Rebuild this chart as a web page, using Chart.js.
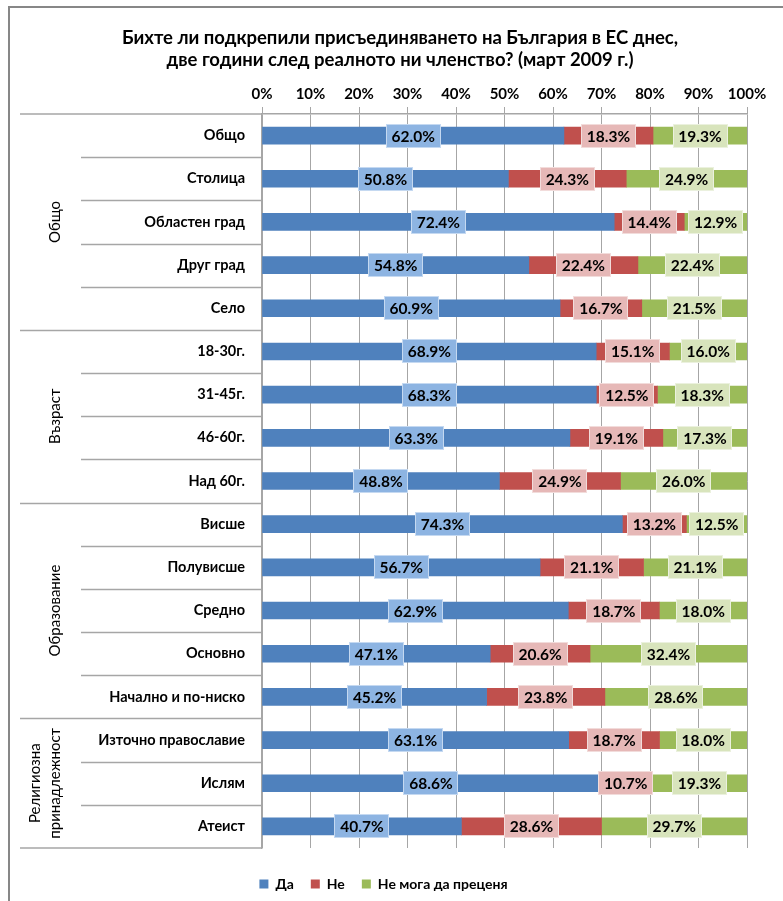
<!DOCTYPE html>
<html>
<head>
<meta charset="utf-8">
<script src="https://cdn.jsdelivr.net/npm/chart.js@4.4.0/dist/chart.umd.min.js"></script>
<style>
  html, body { margin: 0; padding: 0; background: #fff; }
  #wrap { width: 783px; height: 901px; }
</style>
</head>
<body>
<div id="wrap"><canvas id="grafika" width="783" height="901"></canvas></div>
<script>
// заглавие
const zaglavie = [
  'Бихте ли подкрепили присъединяването на България в ЕС днес,',
  'две години след реалното ни членство? (март 2009 г.)'
];

const kategorii = ['Общо', 'Столица', 'Областен град', 'Друг град', 'Село',
  '18-30г.', '31-45г.', '46-60г.', 'Над 60г.',
  'Висше', 'Полувисше', 'Средно', 'Основно', 'Начално и по-ниско',
  'Източно православие', 'Ислям', 'Атеист'];

const da     = [62.0, 50.8, 72.4, 54.8, 60.9, 68.9, 68.3, 63.3, 48.8, 74.3, 56.7, 62.9, 47.1, 45.2, 63.1, 68.6, 40.7];
const ne     = [18.3, 24.3, 14.4, 22.4, 16.7, 15.1, 12.5, 19.1, 24.9, 13.2, 21.1, 18.7, 20.6, 23.8, 18.7, 10.7, 28.6];
const neZnam = [19.3, 24.9, 12.9, 22.4, 21.5, 16.0, 18.3, 17.3, 26.0, 12.5, 21.1, 18.0, 32.4, 28.6, 18.0, 19.3, 29.7];

const seriiImena = ['Да', 'Не', 'Не мога да преценя'];
const xTikove = [0, 10, 20, 30, 40, 50, 60, 70, 80, 90, 100];

// групи: име (редове), първа и последна категория
const grupi = [
  [['Общо'], 0, 4],
  [['Възраст'], 5, 8],
  [['Образование'], 9, 13],
  [['Религиозна', 'принадлежност'], 14, 16]
];

const cvetove = ['#4f81bd', '#c0504d', '#9bbb59'];
const kutiiFon = ['#8db4e2', '#e6b8b7', '#d8e4bc'];
const kutiiRamka = ['#c5d9f1', '#f2dcdb', '#ebf1de'];
const shrift = 'Lato, "Open Sans", sans-serif';

const serii = [da, ne, neZnam];
// 100% натрупване, както в Excel
const sbor = kategorii.map((k, i) => da[i] + ne[i] + neZnam[i]);

const ramka = {
  id: 'ramka',
  beforeDraw(chart) {
    const c = chart.ctx;
    c.save();
    c.fillStyle = '#fff';
    c.fillRect(0, 0, chart.width, chart.height);
    c.fillStyle = '#878787';
    c.fillRect(8, 6, 2, chart.height - 6);
    c.fillRect(8, 6, chart.width - 8, 2);
    c.fillStyle = '#000';
    c.font = 'bold 18.5px ' + shrift;
    c.textAlign = 'center';
    c.textBaseline = 'middle';
    zaglavie.forEach((red, i) => c.fillText(red, 400, 38 + i * 22));
    c.restore();
  }
};

const grupiPlugin = {
  id: 'grupi',
  afterDraw(chart) {
    const c = chart.ctx, a = chart.chartArea, ys = chart.scales.y;
    const step = (a.bottom - a.top) / kategorii.length;
    const nachala = grupi.map(g => g[1]);
    c.save();
    c.strokeStyle = '#a6a6a6';
    c.lineWidth = 1.5;
    c.beginPath();
    c.moveTo(20, a.top); c.lineTo(a.left, a.top);
    c.moveTo(20, a.bottom); c.lineTo(a.left, a.bottom);
    for (let i = 1; i < kategorii.length; i++) {
      const yy = Math.round(ys.getPixelForValue(i) - step / 2) + 0.5;
      c.moveTo(nachala.includes(i) ? 20 : 81, yy);
      c.lineTo(a.left, yy);
    }
    c.stroke();

    c.fillStyle = '#000';
    c.font = '15px ' + shrift;
    c.textAlign = 'center';
    c.textBaseline = 'middle';
    grupi.forEach(g => {
      const y1 = ys.getPixelForValue(g[1]) - step / 2;
      const y2 = ys.getPixelForValue(g[2]) + step / 2;
      const n = g[0].length;
      g[0].forEach((red, j) => {
        c.save();
        c.translate(55 - (n - 1 - j) * 20, (y1 + y2) / 2);
        c.rotate(-Math.PI / 2);
        c.fillText(red, 0, 0);
        c.restore();
      });
    });
    c.restore();
  }
};

const etiketi = {
  id: 'etiketi',
  afterDatasetsDraw(chart) {
    const c = chart.ctx;
    c.save();
    c.font = 'bold 15.5px ' + shrift;
    c.textAlign = 'center';
    c.textBaseline = 'middle';
    c.lineWidth = 1;
    chart.data.datasets.forEach((ds, di) => {
      const meta = chart.getDatasetMeta(di);
      meta.data.forEach((bar, i) => {
        const txt = serii[di][i].toFixed(1) + '%';
        const cx = (bar.x + bar.base) / 2, cy = bar.y;
        const w = Math.round(c.measureText(txt).width + 12), h = 24;
        const x0 = Math.round(cx - w / 2), y0 = Math.round(cy - h / 2);
        c.fillStyle = kutiiFon[di];
        c.fillRect(x0, y0, w, h);
        c.strokeStyle = kutiiRamka[di];
        c.strokeRect(x0 + 0.5, y0 + 0.5, w - 1, h - 1);
        c.fillStyle = '#000';
        c.fillText(txt, cx, cy + 1);
      });
    });
    c.restore();
  }
};

const ctx = document.getElementById('grafika').getContext('2d');
const grafika = new Chart(ctx, {
  type: 'bar',
  data: {
    labels: kategorii,
    datasets: serii.map((s, di) => ({
      label: seriiImena[di],
      data: s.map((v, i) => v / sbor[i] * 100),
      backgroundColor: cvetove[di],
      borderWidth: 0,
      barThickness: 17
    }))
  },
  options: {
    indexAxis: 'y',
    responsive: false,
    devicePixelRatio: 1,
    animation: false,
    layout: { padding: { left: 20, right: 36, top: 80, bottom: 0 } },
    plugins: {
      tooltip: { enabled: false },
      title: { display: false },
      legend: {
        position: 'bottom',
        labels: {
          boxWidth: 9,
          boxHeight: 9,
          padding: 17,
          color: '#000',
          font: { family: shrift, size: 14, weight: 'bold' }
        }
      }
    },
    scales: {
      x: {
        position: 'top',
        stacked: true,
        min: 0,
        max: 100,
        afterBuildTicks: s => { s.ticks = xTikove.map(v => ({ value: v })); },
        afterFit: s => { s.height = 34; },
        grid: { color: '#a6a6a6', tickLength: 7, lineWidth: 1 },
        border: { color: '#a6a6a6', width: 1.5 },
        ticks: {
          padding: 4,
          color: '#000',
          font: { family: shrift, size: 15, weight: 'bold' },
          callback: v => v + '%'
        }
      },
      y: {
        stacked: true,
        afterFit: s => { s.width = 242; },
        grid: { display: false, drawTicks: false },
        border: { color: '#a6a6a6', width: 1.5 },
        ticks: {
          padding: 17,
          color: '#000',
          font: { family: shrift, size: 14.5, weight: 'bold' }
        }
      },
      razdel: {
        type: 'linear',
        position: 'bottom',
        display: true,
        grid: { display: false, drawTicks: false },
        border: { display: false },
        ticks: { display: false },
        afterFit: s => { s.height = 12; }
      }
    }
  },
  plugins: [ramka, grupiPlugin, etiketi]
});
</script>
</body>
</html>
